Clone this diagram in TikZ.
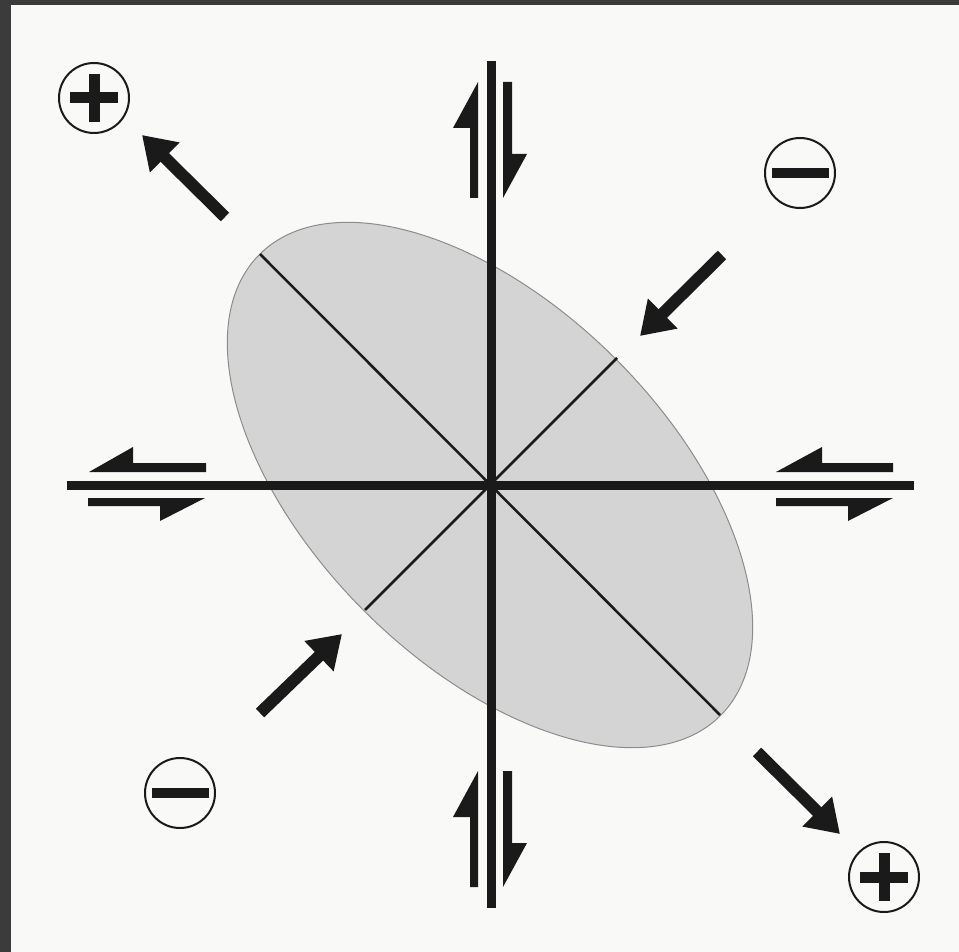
\documentclass[tikz,border=0pt]{standalone}
\usetikzlibrary{arrows.meta}
\definecolor{frame}{HTML}{3B3B3B}
\definecolor{paper}{HTML}{F9F9F8}
\definecolor{ink}{HTML}{1A1A1A}
\definecolor{ellfill}{HTML}{D4D4D4}
\definecolor{ellline}{HTML}{8C8C8C}
\tikzset{
  mainline/.style={ink, line width=9pt},
  axisline/.style={ink, line width=2.5pt},
  halfarrow/.style={fill=ink, draw=none},
  bigarrow/.style={ink, line width=12pt, -{Triangle[length=32pt,width=40pt]}},
  signcircle/.style={circle, draw=ink, line width=2pt, minimum size=70pt, inner sep=0pt, fill=paper},
  signbar/.style={fill=ink, draw=none}
}
\begin{document}
\begin{tikzpicture}[x=1pt,y=-1pt]
\useasboundingbox (0,0) rectangle (959,952);
\fill[frame] (0,0) rectangle (959,952);
\fill[paper] (11,5) rectangle (959,952);

% ellipse
\coordinate (c) at (490,485);
\draw[fill=ellfill, draw=ellline, line width=1pt] (c) ellipse [x radius=326pt, y radius=178pt, rotate=-45];

% ellipse axes
\coordinate (majA) at (260,254);
\coordinate (majB) at (720,715);
\coordinate (minA) at (617,358);
\coordinate (minB) at (365,610);
\draw[axisline] (majA) -- (majB);
\draw[axisline] (minA) -- (minB);

% main cross
\coordinate (vt) at (491,61);
\coordinate (vb) at (491,908);
\coordinate (hl) at (67,485);
\coordinate (hr) at (914,485);
\draw[mainline] (vt) -- (vb);
\draw[mainline] (hl) -- (hr);

% half arrows, top
\fill[halfarrow] (470,198) -- (478,198) -- (478,82) -- (453,128) -- (470,128) -- cycle;
\fill[halfarrow] (503,82) -- (512,82) -- (512,154) -- (527,154) -- (503,198) -- cycle;
% half arrows, bottom
\fill[halfarrow] (470,887) -- (478,887) -- (478,771) -- (453,817) -- (470,817) -- cycle;
\fill[halfarrow] (503,771) -- (512,771) -- (512,843) -- (527,843) -- (503,887) -- cycle;
% half arrows, left
\fill[halfarrow] (206,463) -- (206,472) -- (89,472) -- (133,447) -- (133,463) -- cycle;
\fill[halfarrow] (88,498) -- (205,498) -- (160,521) -- (160,506) -- (88,506) -- cycle;
% half arrows, right
\fill[halfarrow] (893,463) -- (893,472) -- (776,472) -- (822,447) -- (822,463) -- cycle;
\fill[halfarrow] (776,498) -- (893,498) -- (848,521) -- (848,506) -- (776,506) -- cycle;

% diagonal arrows
\coordinate (tlS) at (225,217); \coordinate (tlE) at (142,135);
\coordinate (trS) at (722,255); \coordinate (trE) at (640,336);
\coordinate (blS) at (260,713); \coordinate (blE) at (342,634);
\coordinate (brS) at (757,752); \coordinate (brE) at (840,834);
\draw[bigarrow] (tlS) -- (tlE);
\draw[bigarrow] (trS) -- (trE);
\draw[bigarrow] (blS) -- (blE);
\draw[bigarrow] (brS) -- (brE);

% sign circles
\node[signcircle] (plusTL) at (94,98) {};
\node[signcircle] (plusBR) at (884,877) {};
\node[signcircle] (minusTR) at (800,173) {};
\node[signcircle] (minusBL) at (180,793) {};
\foreach \n in {plusTL,plusBR}{
  \fill[signbar] ([shift={(-24,-5.5)}]\n.center) rectangle ([shift={(24,5.5)}]\n.center);
  \fill[signbar] ([shift={(-5.5,-24)}]\n.center) rectangle ([shift={(5.5,24)}]\n.center);
}
\foreach \n in {minusTR,minusBL}{
  \fill[signbar] ([shift={(-28.5,-5)}]\n.center) rectangle ([shift={(28.5,5)}]\n.center);
}
\end{tikzpicture}
\end{document}
